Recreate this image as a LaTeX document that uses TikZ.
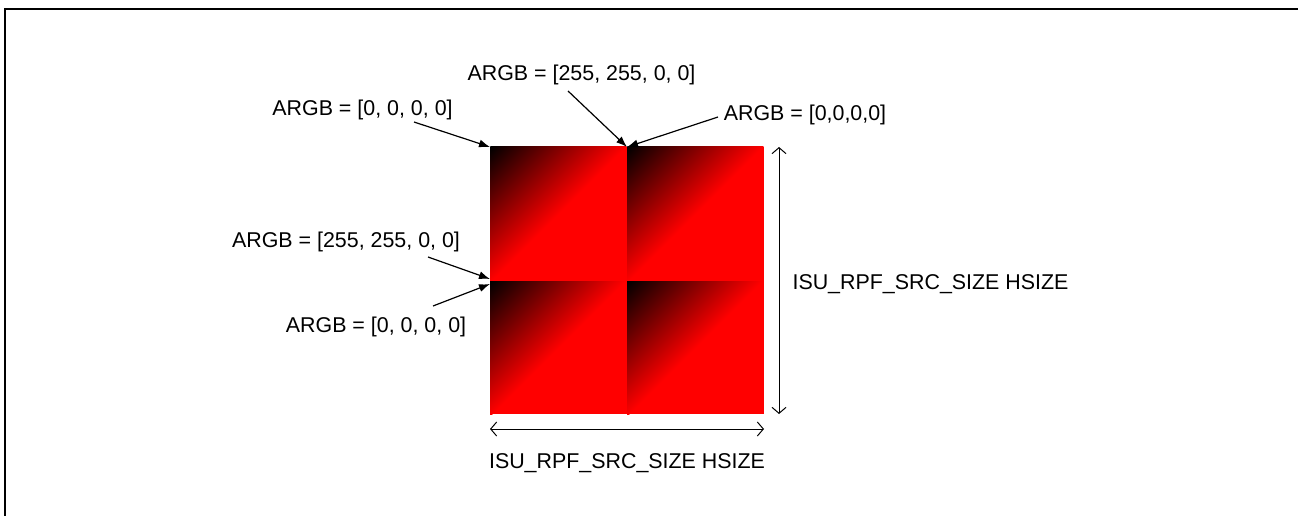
\documentclass[tikz,border=0pt]{standalone}
\usepackage{fontspec}
\setmainfont{Liberation Sans}
\usetikzlibrary{arrows.meta}
\tikzset{
  lbl/.style={inner sep=0pt, anchor=base, font=\fontsize{21.4}{26}\selectfont},
  callout/.style={line width=1.2pt, -{Latex[length=11pt,width=8pt]}},
  dimline/.style={line width=1pt, {Straight Barb[length=6pt,width=14pt]}-{Straight Barb[length=6pt,width=14pt]}},
  frameline/.style={line width=2pt}
}
\newcommand{\quadshade}[4]{%
  \begin{scope}
    \clip (#1,#2) rectangle (#3,#4);
    \fill[red] (#1,#2) rectangle (#3,#4);
    \begin{scope}[transform canvas={rotate around={-45:(#1,#2)}}]
      \shade[left color=black,right color=red] (#1,#2-300) rectangle (#1+96,#2+300);
    \end{scope}
  \end{scope}}
\begin{document}
\begin{tikzpicture}[x=1pt,y=-1pt]
\useasboundingbox (0,0) rectangle (1298,516);
\fill[white] (0,0) rectangle (1298,516);
% frame
\draw[frameline] (5,520) -- (5,9) -- (1302,9);
% quadrants
\quadshade{490}{147}{627}{281}
\quadshade{627}{147}{764}{281}
\quadshade{490}{281}{627}{414}
\quadshade{627}{281}{764}{414}
% corner coordinates
\coordinate (TL) at (490,147);
\coordinate (TM) at (627,147);
\coordinate (MLu) at (490,279);
\coordinate (MLd) at (490,284);
\coordinate (BL) at (490,414);
\coordinate (TR) at (764,147);
\coordinate (BR) at (764,414);
% labels
\node[lbl] (t1) at (362.5,115.7) {ARGB = [0, 0, 0, 0]};
\node[lbl] (t2) at (581.5,80.7) {ARGB = [255, 255, 0, 0]};
\node[lbl] (t3) at (805,120.7) {ARGB = [0,0,0,0]};
\node[lbl] (t4) at (346,247.7) {ARGB = [255, 255, 0, 0]};
\node[lbl] (t5) at (376,332.7) {ARGB = [0, 0, 0, 0]};
\node[lbl] (t6) at (930.5,289.7) {ISU\_RPF\_SRC\_SIZE HSIZE};
\node[lbl] (t7) at (627,468.7) {ISU\_RPF\_SRC\_SIZE HSIZE};
% callout starts
\coordinate (s1) at (414,122);
\coordinate (s2) at (568,91);
\coordinate (s3) at (718,117);
\coordinate (s4) at (428,257);
\coordinate (s5) at (433,306);
\draw[callout] (s1) -- (TL);
\draw[callout] (s2) -- (TM);
\draw[callout] (s3) -- (TM);
\draw[callout] (s4) -- (MLu);
\draw[callout] (s5) -- (MLd);
% dimensions
\coordinate (v1) at (779,147);
\coordinate (v2) at (779,414);
\coordinate (h1) at (490,429);
\coordinate (h2) at (764,429);
\draw[dimline] (v1) -- (v2);
\draw[dimline] (h1) -- (h2);
\end{tikzpicture}
\end{document}
